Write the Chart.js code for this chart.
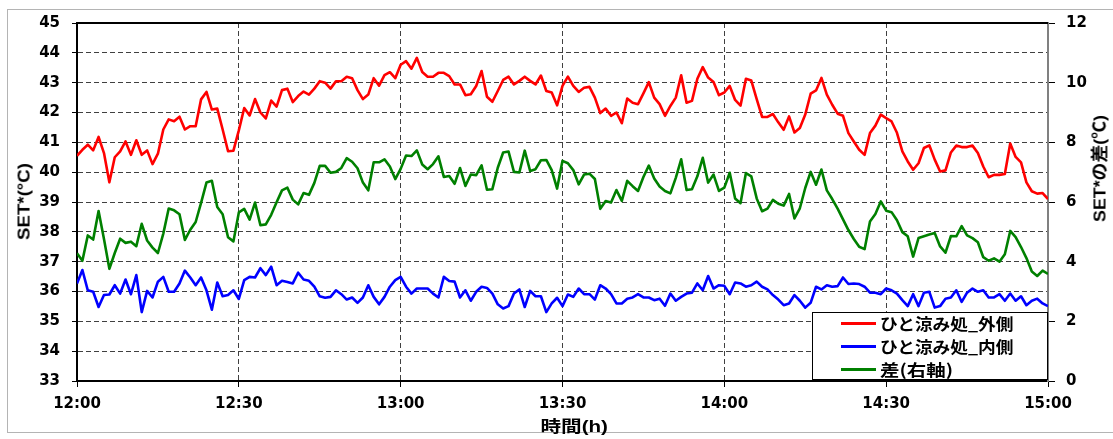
<!DOCTYPE html>
<html>
<head>
<meta charset="utf-8">
<script src="https://cdn.jsdelivr.net/npm/chart.js@4.4.0/dist/chart.umd.min.js"></script>
<style>
  html, body { margin:0; padding:0; background:#fff; }
  #wrap { position:relative; width:1113px; height:439px; overflow:hidden; background:#fff; }
  #frame { position:absolute; left:7px; top:9px; width:1200px; height:424px; border:1px solid #b4b4b4; box-sizing:border-box; }
  canvas { position:absolute; left:0; top:0; }
  .title { position:absolute; left:0; top:0; display:inline-block; font-family:"Liberation Sans","Noto Sans CJK JP",sans-serif; font-weight:bold; color:#000; white-space:nowrap; line-height:1; }
  #legend { position:absolute; left:812px; top:312px; width:236px; height:68px; border:1px solid #000; background:#fff; box-sizing:border-box; }
  .lrow { position:absolute; left:0; height:20px; width:100%; }
  .lline { position:absolute; left:28px; width:35px; height:3px; top:9px; }
  .ltext { position:absolute; left:67px; top:0; display:inline-block; font-family:"Noto Sans CJK JP",sans-serif; font-weight:bold; font-size:16px; line-height:20px; color:#000; white-space:nowrap; transform-origin:left center; }
</style>
</head>
<body>
<div id="wrap">
  <div id="frame"></div>
  <canvas id="c" width="1113" height="439" style="width:1113px;height:439px"></canvas>
  <div id="legend"></div>
</div>
<script>
// ---- data (one value per minute from 12:00 to 15:00) ----
const xTickLabels = ['12:00','12:30','13:00','13:30','14:00','14:30','15:00'];
const seriesNames = ['ひと涼み処_外側','ひと涼み処_内側','差(右軸)'];
const seriesColors = ['#ff0000','#0000ff','#008000'];
const axisTitles = { y: 'SET*(°C)', y1: 'SET*の差(℃)', x: '時間(h)' };

const outerSet = [
  40.55,40.75,40.92,40.73,41.18,40.64,39.66,40.50,40.70,41.03,
  40.58,41.07,40.58,40.73,40.27,40.62,41.43,41.77,41.71,41.86,
  41.43,41.54,41.54,42.44,42.69,42.10,42.13,41.43,40.70,40.72,
  41.40,42.15,41.90,42.45,42.00,41.80,42.40,42.20,42.75,42.80,
  42.35,42.55,42.70,42.60,42.80,43.05,43.00,42.80,43.05,43.05,
  43.20,43.15,42.75,42.45,42.60,43.15,42.90,43.25,43.35,43.15,
  43.60,43.72,43.47,43.83,43.36,43.20,43.20,43.33,43.33,43.22,
  42.94,42.94,42.58,42.61,42.89,43.39,42.53,42.36,42.72,43.09,
  43.20,42.94,43.06,43.20,43.06,42.94,43.24,42.72,42.67,42.24,
  42.89,43.20,42.89,42.69,42.83,42.86,42.50,41.98,42.13,41.89,
  42.00,41.64,42.47,42.33,42.28,42.64,43.02,42.50,42.28,41.89,
  42.22,42.50,43.25,42.33,42.39,43.13,43.52,43.17,43.02,42.58,
  42.67,42.89,42.42,42.23,43.13,43.07,42.45,41.85,41.85,41.95,
  41.67,41.42,41.87,41.33,41.48,41.93,42.63,42.74,43.16,42.60,
  42.26,41.96,41.89,41.31,41.03,40.75,40.58,41.31,41.56,41.93,
  41.81,41.70,41.32,40.70,40.36,40.08,40.30,40.81,40.90,40.42,
  40.02,40.06,40.66,40.89,40.84,40.84,40.89,40.64,40.19,39.83,
  39.91,39.91,39.94,40.96,40.51,40.33,39.66,39.36,39.28,39.30,39.10
];

const innerSet = [
  36.27,36.72,36.04,35.99,35.48,35.88,35.90,36.21,35.93,36.40,
  35.91,36.55,35.31,36.02,35.80,36.33,36.49,35.99,35.99,36.27,
  36.70,36.47,36.21,36.47,36.04,35.39,36.30,35.84,35.88,36.04,
  35.75,36.38,36.49,36.47,36.78,36.55,36.83,36.21,36.36,36.32,
  36.27,36.63,36.40,36.36,36.16,35.84,35.79,35.82,36.04,35.91,
  35.73,35.80,35.62,35.80,36.21,35.82,35.57,35.82,36.16,36.38,
  36.49,36.16,35.93,36.10,36.10,36.10,35.93,35.80,36.49,36.35,
  36.33,35.80,36.04,35.69,35.99,36.16,36.12,35.93,35.57,35.43,
  35.51,35.93,36.07,35.48,36.02,35.84,35.84,35.31,35.60,35.79,
  35.51,35.90,35.82,36.10,35.91,35.91,35.73,36.21,36.10,35.91,
  35.60,35.60,35.76,35.80,35.91,35.80,35.80,35.71,35.76,35.52,
  35.93,35.69,35.82,35.93,35.96,36.27,36.04,36.52,36.10,36.21,
  36.19,35.91,36.30,36.27,36.16,36.21,36.33,36.16,36.07,35.88,
  35.73,35.54,35.60,35.88,35.69,35.46,35.62,36.16,36.07,36.21,
  36.16,36.18,36.47,36.25,36.27,36.25,36.16,35.96,35.96,35.91,
  36.10,36.04,35.93,35.71,35.51,35.91,35.51,35.96,35.99,35.46,
  35.51,35.76,35.80,36.04,35.65,35.96,36.10,35.99,36.04,35.80,
  35.80,35.91,35.69,35.93,35.69,35.84,35.54,35.69,35.76,35.60,35.51
];

const diffSet = [
  4.28,4.03,4.88,4.74,5.70,4.76,3.76,4.29,4.77,4.63,
  4.67,4.52,5.27,4.71,4.47,4.29,4.94,5.78,5.72,5.59,
  4.73,5.07,5.33,5.97,6.65,6.71,5.83,5.59,4.82,4.68,
  5.65,5.77,5.41,5.98,5.22,5.25,5.57,5.99,6.39,6.48,
  6.08,5.92,6.30,6.24,6.64,7.21,7.21,6.98,7.01,7.14,
  7.47,7.35,7.13,6.65,6.39,7.33,7.33,7.43,7.19,6.77,
  7.11,7.56,7.54,7.73,7.26,7.10,7.27,7.53,6.84,6.87,
  6.61,7.14,6.54,6.92,6.90,7.23,6.41,6.43,7.15,7.66,
  7.69,7.01,6.99,7.72,7.04,7.10,7.40,7.41,7.07,6.45,
  7.38,7.30,7.07,6.59,6.92,6.95,6.77,5.77,6.03,5.98,
  6.40,6.04,6.71,6.53,6.37,6.84,7.22,6.79,6.52,6.37,
  6.29,6.81,7.43,6.40,6.43,6.86,7.48,6.65,6.92,6.37,
  6.48,6.98,6.12,5.96,6.97,6.86,6.12,5.69,5.78,6.07,
  5.94,5.88,6.27,5.45,5.79,6.47,7.01,6.58,7.09,6.39,
  6.10,5.78,5.42,5.06,4.76,4.50,4.42,5.35,5.60,6.02,
  5.71,5.66,5.39,4.99,4.85,4.17,4.79,4.85,4.91,4.96,
  4.51,4.30,4.86,4.85,5.19,4.88,4.79,4.65,4.15,4.03,
  4.11,4.00,4.25,5.03,4.82,4.49,4.12,3.67,3.52,3.70,3.59
];

const wrap = document.getElementById('wrap');

// ---- axis titles (HTML, real text), stretched to the reference lengths ----
function addTitle(text, cx, cy, size, targetLen, rotate) {
  const el = document.createElement('div');
  el.className = 'title';
  el.style.fontSize = size + 'px';
  el.textContent = text;
  wrap.appendChild(el);
  const w = el.offsetWidth, h = el.offsetHeight;
  const k = targetLen / w;
  el.style.left = (cx - w / 2) + 'px';
  el.style.top = (cy - h / 2) + 'px';
  el.style.transform = (rotate ? 'rotate(-90deg) ' : '') + 'scaleX(' + k.toFixed(3) + ')';
  el.style.transformOrigin = 'center center';
}
addTitle(axisTitles.y, 24, 201, 17, 77, true);
addTitle(axisTitles.y1, 1100, 168, 17, 107, true);
addTitle(axisTitles.x, 574, 427, 16, 67, false);

// ---- legend (HTML, real text) ----
const legendEl = document.getElementById('legend');
const legendTextLen = [134, 134, 73];
seriesNames.forEach((name, i) => {
  const row = document.createElement('div');
  row.className = 'lrow';
  row.style.top = (i * 23) + 'px';
  const ln = document.createElement('div');
  ln.className = 'lline';
  ln.style.background = seriesColors[i];
  const tx = document.createElement('div');
  tx.className = 'ltext';
  tx.textContent = name;
  row.appendChild(ln); row.appendChild(tx);
  legendEl.appendChild(row);
  const k = legendTextLen[i] / tx.offsetWidth;
  tx.style.transform = 'scaleX(' + k.toFixed(3) + ')';
});

const toPoints = arr => arr.map((v, i) => ({ x: i, y: v }));
const tickFont = { family: 'DejaVu Sans', weight: 'bold', size: 15 };

const topBorder = {
  id: 'topBorder',
  afterDraw(chart) {
    const { ctx, chartArea } = chart;
    ctx.save();
    ctx.strokeStyle = '#000';
    ctx.lineWidth = 2;
    ctx.beginPath();
    ctx.moveTo(chartArea.left - 1, chartArea.top);
    ctx.lineTo(chartArea.right, chartArea.top);
    ctx.stroke();
    ctx.restore();
  }
};

new Chart(document.getElementById('c'), {
  type: 'line',
  data: {
    datasets: [
      { label: seriesNames[0], data: toPoints(outerSet), yAxisID: 'y', borderColor: seriesColors[0], borderWidth: 2.6, pointRadius: 0, tension: 0, borderJoinStyle: 'round' },
      { label: seriesNames[1], data: toPoints(innerSet), yAxisID: 'y', borderColor: seriesColors[1], borderWidth: 2.6, pointRadius: 0, tension: 0, borderJoinStyle: 'round' },
      { label: seriesNames[2], data: toPoints(diffSet), yAxisID: 'y1', borderColor: seriesColors[2], borderWidth: 2.6, pointRadius: 0, tension: 0, borderJoinStyle: 'round' }
    ]
  },
  options: {
    responsive: false,
    animation: false,
    devicePixelRatio: 1,
    layout: { padding: { top: 23, left: 0, right: 0, bottom: 0 } },
    plugins: { legend: { display: false }, tooltip: { enabled: false } },
    scales: {
      x: {
        type: 'linear', min: 0, max: 180,
        ticks: { stepSize: 30, autoSkip: false, maxRotation: 0, color: '#000', font: tickFont, padding: 8,
                 callback: v => xTickLabels[Math.round(v / 30)] },
        grid: { color: '#404040', lineWidth: 1, tickLength: 6, tickColor: '#000', tickWidth: 1 },
        border: { color: '#000', width: 2, dash: [5, 3] },
        afterFit: s => { s.height = 58; }
      },
      y: {
        position: 'left', min: 33, max: 45,
        ticks: { stepSize: 1, color: '#000', font: tickFont, padding: 12 },
        grid: { color: '#404040', lineWidth: 1, tickLength: 5, tickColor: '#000', tickWidth: 1 },
        border: { color: '#000', width: 2, dash: [5, 3] },
        afterFit: s => { s.width = 77; }
      },
      y1: {
        position: 'right', min: 0, max: 12,
        ticks: { stepSize: 2, color: '#000', font: tickFont, padding: 11 },
        grid: { drawOnChartArea: false, tickLength: 7, tickColor: '#000', tickWidth: 1 },
        border: { color: '#808080', width: 2 },
        afterFit: s => { s.width = 65; }
      }
    }
  },
  plugins: [topBorder]
});
</script>
</body>
</html>
